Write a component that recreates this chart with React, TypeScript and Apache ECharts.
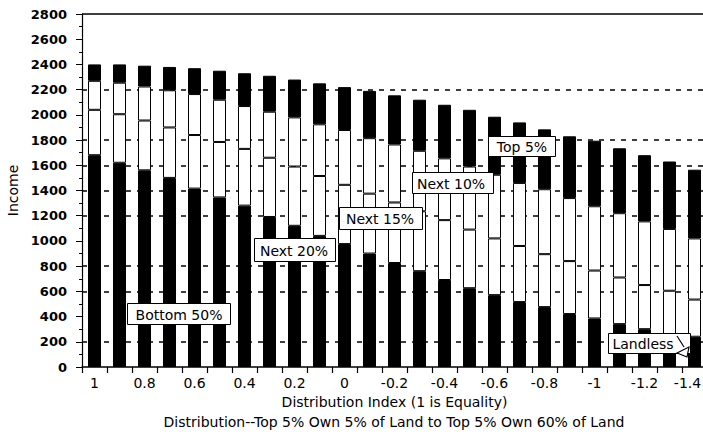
import React, { useEffect, useRef } from "react";
import * as echarts from "echarts";

// Distribution index categories (1 = equality)
const categories = [
  "1", "0.9", "0.8", "0.7", "0.6", "0.5", "0.4", "0.3", "0.2", "0.1", "0",
  "-0.1", "-0.2", "-0.3", "-0.4", "-0.5", "-0.6", "-0.7", "-0.8", "-0.9",
  "-1", "-1.1", "-1.2", "-1.3", "-1.4",
];

// Segment heights (income), bottom to top
const bottomBlack = [1680, 1620, 1560, 1500, 1415, 1345, 1280, 1190, 1120, 1040, 975, 900, 825, 760, 690, 625, 570, 515, 475, 420, 385, 340, 300, 255, 240];
const lowerWhite = [360, 385, 395, 400, 425, 440, 450, 470, 470, 475, 470, 475, 480, 475, 475, 465, 450, 445, 420, 420, 380, 370, 350, 350, 295];
const upperWhite = [230, 250, 270, 295, 325, 335, 340, 365, 390, 410, 435, 440, 460, 480, 490, 500, 505, 500, 515, 500, 510, 510, 505, 490, 485];
const topBlack = [130, 145, 165, 185, 205, 230, 260, 285, 300, 325, 340, 375, 390, 405, 425, 450, 460, 480, 475, 490, 520, 515, 525, 535, 545];

// Dashed reference lines visible in the chart
const gridValues = [200, 600, 800, 1200, 1400, 1600, 1800, 2200];
const yMax = 2800;
const yStep = 200;

const annotations = [
  { text: "Bottom 50%", x: 127, y: 303, w: 103, h: 21, tx: 179 },
  { text: "Next 20%", x: 254, y: 238, w: 81, h: 23, tx: 294 },
  { text: "Next 15%", x: 339, y: 207, w: 83, h: 22, tx: 380 },
  { text: "Next 10%", x: 412, y: 172, w: 81, h: 21, tx: 451 },
  { text: "Top 5%", x: 488, y: 136, w: 67, h: 20, tx: 522 },
  { text: "Landless", x: 608, y: 333, w: 82, h: 20, tx: 643 },
];

const FONT = "DejaVu Sans";

export default function App() {
  const ref = useRef<HTMLDivElement>(null);

  useEffect(() => {
    document.body.style.margin = "0";
    const chart = echarts.init(ref.current!, null, { renderer: "svg" });

    const barBase = {
      type: "bar",
      stack: "total",
      barWidth: 13,
      animation: false,
    };

    const graphic: any[] = [];
    annotations.forEach((a) => {
      graphic.push({
        type: "rect",
        z: 100,
        shape: { x: a.x + 0.5, y: a.y + 0.5, width: a.w, height: a.h },
        style: { fill: "#fff", stroke: "#000", lineWidth: 1 },
      });
      graphic.push({
        type: "text",
        z: 101,
        x: a.tx,
        y: a.y + a.h / 2 + 1,
        style: {
          text: a.text,
          font: `14px '${FONT}'`,
          fill: "#000",
          align: "center",
          verticalAlign: "middle",
          textAlign: "center",
          textVerticalAlign: "middle",
        },
      });
    });
    // Landless arrow
    graphic.push({
      type: "line",
      z: 102,
      shape: { x1: 677, y1: 336, x2: 684, y2: 347 },
      style: { stroke: "#000", lineWidth: 1.2 },
    });
    graphic.push({
      type: "polygon",
      z: 102,
      shape: { points: [[677, 353], [689, 347], [687, 357]] },
      style: { fill: "#fff", stroke: "#000", lineWidth: 1.2 },
    });
    // subtitle
    graphic.push({
      type: "text",
      z: 50,
      x: 394,
      y: 422,
      style: {
        text: "Distribution--Top 5% Own 5% of Land to Top 5% Own 60% of Land",
        font: `14px '${FONT}'`,
        fill: "#000",
        align: "center",
        verticalAlign: "middle",
        textAlign: "center",
        textVerticalAlign: "middle",
      },
    });

    chart.setOption({
      animation: false,
      textStyle: { fontFamily: FONT, color: "#000" },
      grid: {
        left: 82,
        right: -4,
        top: 14,
        bottom: 68,
        containLabel: false,
        outerBoundsMode: "none",
      },
      xAxis: {
        type: "category",
        data: categories,
        name: "Distribution Index (1 is Equality)",
        nameLocation: "middle",
        nameGap: 27,
        nameTextStyle: { fontSize: 14, color: "#000", fontFamily: FONT },
        axisLine: { show: true, lineStyle: { color: "#000", width: 1.5 } },
        axisTick: { show: true, interval: 0, length: 6, lineStyle: { color: "#000", width: 1.2 } },
        axisLabel: {
          interval: 1,
          margin: 9,
          fontSize: 14,
          color: "#000",
          fontFamily: FONT,
          formatter: (v: string, i: number) => (i === categories.length - 1 ? `{last|${v}}` : v),
          rich: {
            last: { fontSize: 14, color: "#000", fontFamily: FONT, padding: [0, 14, 0, 0] },
          },
        },
        splitLine: { show: false },
      },
      yAxis: {
        type: "value",
        min: 0,
        max: yMax,
        interval: yStep,
        name: "Income",
        nameLocation: "middle",
        nameGap: 55,
        nameTextStyle: { fontSize: 14, color: "#000", fontFamily: FONT },
        axisLine: { show: true, lineStyle: { color: "#000", width: 1.2 } },
        axisTick: { show: true, length: 6, lineStyle: { color: "#000", width: 1 } },
        minorTick: { show: true, splitNumber: 2, length: 3, lineStyle: { color: "#000", width: 1 } },
        axisLabel: {
          margin: 15,
          fontSize: 13,
          fontWeight: "bold",
          color: "#000",
          fontFamily: FONT,
          formatter: (v: number) => String(v),
        },
        splitLine: { show: false },
        minorSplitLine: { show: false },
      },
      series: [
        {
          ...barBase,
          name: "Bottom",
          data: bottomBlack,
          itemStyle: { color: "#000", borderColor: "#000", borderWidth: 1 },
          markLine: {
            z: 1,
            silent: true,
            symbol: "none",
            label: { show: false },
            lineStyle: { color: "#000", type: [5, 6], width: 1.5 },
            data: [
              ...gridValues.map((v) => ({ yAxis: v })),
              { yAxis: yMax, lineStyle: { type: "solid", width: 1.5, color: "#000" } },
            ],
          },
        },
        {
          ...barBase,
          name: "Lower middle",
          data: lowerWhite,
          itemStyle: { color: "#fff", borderColor: "#000", borderWidth: 1 },
        },
        {
          ...barBase,
          name: "Upper middle",
          data: upperWhite,
          itemStyle: { color: "#fff", borderColor: "#000", borderWidth: 1 },
        },
        {
          ...barBase,
          name: "Top",
          data: topBlack,
          itemStyle: { color: "#000", borderColor: "#000", borderWidth: 1 },
        },
      ],
      graphic,
    });

    return () => chart.dispose();
  }, []);

  return (
    <div
      ref={ref}
      style={{ position: "absolute", left: 0, top: 0, width: 703, height: 435, overflow: "hidden" }}
    />
  );
}
